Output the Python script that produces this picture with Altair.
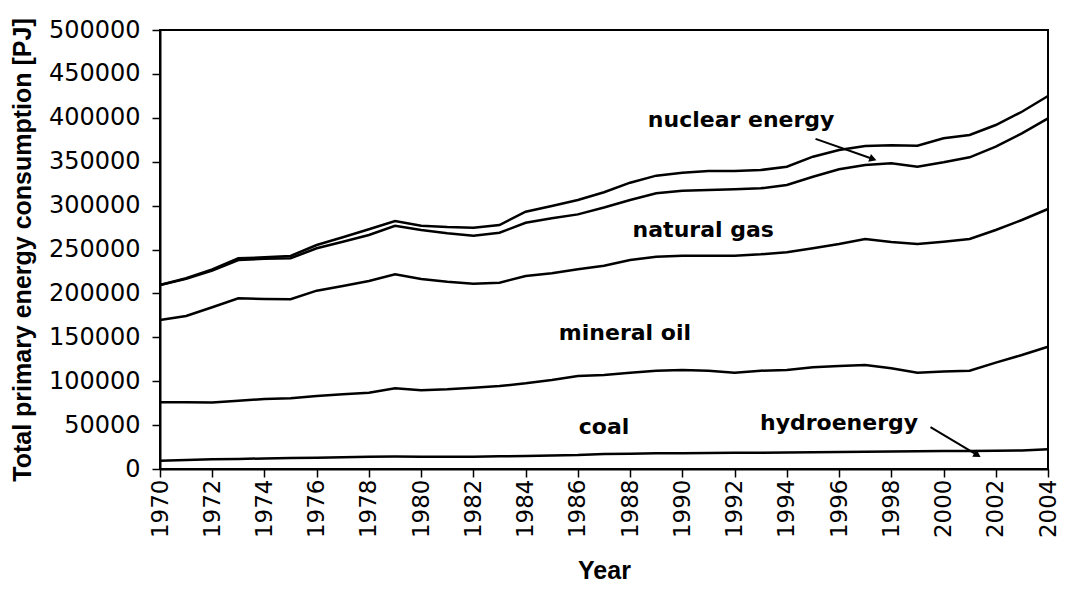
import altair as alt
import pandas as pd

years = list(range(1970, 2005))

# cumulative boundaries (top of each layer) in PJ
nuclear_top = [209600, 217200, 227400, 240000, 241100, 242600, 255100, 263900, 273000, 282500,
               277100, 275600, 274800, 277900, 293100, 299500, 306400, 315200, 326100, 334100,
               337500, 339400, 339400, 340500, 344300, 355700, 363300, 367900, 368600, 368200,
               376600, 380400, 391800, 406900, 424800]
gas_top = [209600, 216500, 226000, 238000, 239500, 240000, 251400, 258900, 266500, 277100,
           272200, 268400, 265700, 269100, 280500, 285500, 290000, 297800, 306400, 314000,
           317000, 317800, 318500, 319700, 323500, 332900, 341300, 346200, 348200, 344300,
           349300, 355000, 367100, 382300, 399400]
oil_top = [169700, 174300, 184200, 194400, 193600, 193300, 203100, 208400, 214100, 221700,
           216400, 213300, 211000, 212200, 219800, 222900, 227400, 231600, 238000, 241800,
           243000, 242900, 242900, 244500, 246800, 251400, 256300, 262000, 258500, 256300,
           258900, 262000, 272200, 283600, 296100]
coal_top = [76000, 76000, 75800, 77800, 79700, 80500, 83100, 85000, 86900, 91900,
            89600, 90700, 92600, 94500, 97600, 101400, 105900, 107100, 109700, 112000,
            112800, 112000, 109700, 112000, 112800, 115800, 117300, 118500, 114700, 109700,
            111000, 112000, 121100, 129800, 139300]
hydro_top = [9500, 10200, 11000, 11500, 12000, 12400, 12900, 13400, 14000, 14200,
             14000, 14000, 14000, 14400, 14800, 15400, 15900, 17100, 17500, 17800,
             18000, 18200, 18400, 18600, 18800, 19200, 19500, 19700, 20000, 20200,
             20400, 20500, 20800, 21000, 22400]

series = {
    "nuclear energy": nuclear_top,
    "natural gas": gas_top,
    "mineral oil": oil_top,
    "coal": coal_top,
    "hydroenergy": hydro_top,
}

label_text = ["nuclear energy", "natural gas", "mineral oil", "coal", "hydroenergy"]
label_year = [1992.25, 1990.8, 1987.8, 1987.0, 1996.0]
label_value = [397500, 272000, 155000, 48000, 52500]

arrow_year = [1995.1, 1999.5]
arrow_value = [376000, 47800]
arrow_year2 = [1997.3, 2001.3]
arrow_value2 = [353000, 15900]
arrow_angle = [19, 31]

rows = []
for name, vals in series.items():
    for y, v in zip(years, vals):
        rows.append({"year": y, "value": v, "series": name})
df = pd.DataFrame(rows)

labels_df = pd.DataFrame({"text": label_text, "year": label_year, "value": label_value})
arrows_df = pd.DataFrame({"year": arrow_year, "value": arrow_value,
                          "year2": arrow_year2, "value2": arrow_value2,
                          "angle": arrow_angle})

xscale = alt.Scale(domain=[1970, 2004], nice=False, zero=False)
yscale = alt.Scale(domain=[0, 500000], nice=False)

xaxis = alt.Axis(values=years, labelExpr="datum.value % 2 == 0 ? datum.value : ''",
                 labelAngle=-90, labelAlign="right", labelBaseline="middle",
                 labelPadding=2, tickSize=8, title="Year", titleY=109,
                 titleBaseline="alphabetic",
                 labelOverlap=False, grid=False, labelFontSize=23)
yaxis = alt.Axis(values=list(range(0, 500001, 50000)), format="d", tickSize=8,
                 labelPadding=12, title="Total primary energy consumption [PJ]",
                 titleX=-138, titleBaseline="middle", grid=False, labelFontSize=24)

lines = alt.Chart(df).mark_line(color="black", strokeWidth=2.5).encode(
    x=alt.X("year:Q", scale=xscale, axis=xaxis),
    y=alt.Y("value:Q", scale=yscale, axis=yaxis),
    detail="series:N",
    order="year:Q",
)

texts = alt.Chart(labels_df).mark_text(font="DejaVu Sans", fontWeight="bold",
                                       fontSize=22, color="black").encode(
    x=alt.X("year:Q", scale=xscale),
    y=alt.Y("value:Q", scale=yscale),
    text="text:N",
)

rules = alt.Chart(arrows_df).mark_rule(color="black", strokeWidth=2).encode(
    x=alt.X("year:Q", scale=xscale),
    y=alt.Y("value:Q", scale=yscale),
    x2="year2:Q",
    y2="value2:Q",
)

heads = alt.Chart(arrows_df).mark_point(shape="triangle-right", filled=True, color="black",
                                        size=70, opacity=1).encode(
    x=alt.X("year2:Q", scale=xscale),
    y=alt.Y("value2:Q", scale=yscale),
    angle=alt.Angle("angle:Q", scale=None),
)

chart = alt.layer(lines, rules, heads, texts).properties(
    width=888, height=439,
    autosize=alt.AutoSizeParams(type="none"),
    padding={"left": 152, "top": 22, "right": 13, "bottom": 115},
).configure_view(
    stroke="black", strokeWidth=2
).configure_axis(
    labelFont="DejaVu Sans", labelColor="black",
    titleFont="Liberation Sans", titleFontSize=25, titleFontWeight="bold", titleColor="black",
    domainColor="black", domainWidth=2, tickColor="black", tickWidth=1.5,
)

chart.save("out.html", embed_options={"renderer": "svg", "actions": False})
